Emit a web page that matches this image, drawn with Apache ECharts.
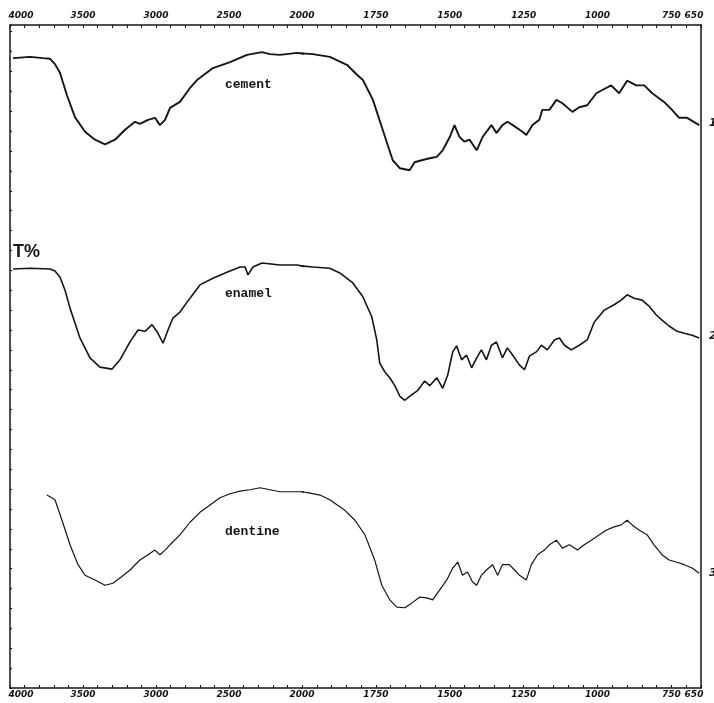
<!DOCTYPE html>
<html><head><meta charset="utf-8">
<script src="https://cdn.jsdelivr.net/npm/echarts@6/dist/echarts.min.js"></script>
<style>html,body{margin:0;padding:0;background:#fff}#c{width:714px;height:703px}</style>
</head><body><div id="c"></div>
<script>
// Wavenumber (cm-1) and transmittance (arbitrary T%, curves offset)
const cementWn = [3979,3863,3774,3726,3692,3658,3610,3555,3486,3418,3349,3281,3212,3144,3110,3055,3007,2973,2938,2904,2836,2767,2719,2610,2493,2377,2274,2219,2151,2034,1963,1906,1848,1814,1794,1760,1727,1693,1669,1636,1619,1595,1568,1544,1524,1500,1484,1467,1450,1433,1409,1389,1359,1342,1322,1305,1287,1254,1241,1220,1197,1187,1163,1139,1119,1085,1062,1035,1004,984,954,927,900,869,842,815,775,748,724,697,656];
const cementT  = [95.0,95.2,95.0,94.9,94.1,92.8,89.4,86.1,83.9,82.7,82.0,82.7,84.2,85.4,85.1,85.7,86.0,84.9,85.7,87.5,88.4,90.5,91.7,93.5,94.4,95.5,95.9,95.6,95.5,95.8,95.6,95.2,94.0,92.5,91.7,88.7,84.2,79.6,78.4,78.1,79.3,79.6,79.9,80.1,81.1,83.1,84.9,83.1,82.4,82.7,81.1,83.1,84.9,83.7,84.9,85.4,84.9,83.9,83.4,84.9,85.7,87.2,87.2,88.7,88.2,86.9,87.6,87.9,89.7,90.2,90.9,89.7,91.6,90.9,90.9,89.7,88.4,87.2,86.0,86.0,84.9];

const enamelWn = [3979,3863,3726,3692,3658,3623,3589,3521,3452,3384,3301,3247,3178,3123,3075,3027,2986,2952,2918,2884,2836,2767,2699,2610,2514,2425,2390,2370,2336,2274,2151,2034,1963,1906,1872,1828,1794,1764,1747,1737,1720,1703,1686,1669,1652,1636,1608,1585,1568,1544,1524,1507,1490,1477,1460,1443,1426,1409,1393,1376,1359,1342,1322,1305,1287,1264,1247,1230,1207,1190,1170,1146,1129,1112,1089,1062,1035,1011,977,944,920,900,876,849,826,802,782,758,731,707,680,656];
const enamelT  = [63.2,63.3,63.2,62.9,62.0,60.0,57.3,52.8,49.8,48.4,48.1,49.5,52.2,54.0,53.8,54.8,53.5,52.0,54.0,55.8,56.7,58.8,60.8,61.8,62.7,63.5,63.5,62.3,63.5,64.1,63.8,63.8,63.5,63.3,62.6,61.1,59.0,56.0,52.5,49.0,47.7,46.8,45.6,44.0,43.4,44.0,44.9,46.3,45.6,46.8,45.2,47.2,50.7,51.6,49.5,50.2,48.3,49.8,51.0,49.5,51.7,52.2,49.8,51.3,50.2,48.7,48.0,50.1,50.7,51.7,51.0,52.5,52.8,51.7,51.0,51.7,52.5,55.2,57.0,57.8,58.5,59.3,58.8,58.5,57.6,56.3,55.5,54.6,53.8,53.5,53.2,52.8];

const dentineWn = [3747,3692,3644,3589,3534,3486,3418,3349,3295,3247,3178,3110,3055,3007,2973,2938,2904,2836,2767,2699,2630,2562,2493,2425,2356,2288,2219,2151,2082,2000,1973,1939,1906,1855,1821,1787,1754,1730,1703,1679,1652,1629,1602,1578,1558,1534,1510,1490,1473,1457,1440,1423,1409,1393,1376,1355,1338,1322,1298,1281,1264,1241,1224,1203,1180,1163,1139,1119,1095,1068,1045,1021,994,971,944,920,900,883,859,832,809,782,758,734,707,680,656];
const dentineT  = [29.1,28.4,25.3,21.6,18.6,17.0,16.3,15.5,15.8,16.6,17.8,19.3,20.1,20.8,20.1,20.8,21.6,23.1,25.0,26.5,27.6,28.7,29.3,29.7,29.9,30.2,29.9,29.6,29.6,29.6,29.4,29.1,28.4,26.8,25.3,23.1,19.3,15.5,13.3,12.2,12.1,12.8,13.7,13.6,13.3,14.8,16.3,18.1,19.0,17.0,17.5,16.0,15.5,17.0,17.8,18.6,17.0,18.6,18.6,17.8,17.0,16.3,18.6,20.1,20.8,21.6,22.3,21.1,21.6,20.8,21.6,22.3,23.1,23.8,24.3,24.6,25.3,24.6,23.8,23.1,21.6,20.1,19.3,19.0,18.6,18.1,17.3];

const curveNames = ['cement','enamel','dentine'];
const highLabels = [4000,3500,3000,2500,2000];   // 4000-2000 section
const lowLabels  = [1750,1500,1250,1000,750,650]; // 2000-650 section

const chart = echarts.init(document.getElementById('c'), null, {renderer:'canvas'});
const zip = (w,t)=>w.map((v,i)=>[v,t[i]]);
const ink = '#151515';
const fontBase = {fontFamily:'DejaVu Sans', fontStyle:'italic', fontWeight:'bold', fontSize:9, color:ink};
const lab = Object.assign({}, fontBase, {
  formatter: v => v === 4000 ? '{l|4000}' : (v === 650 ? '{r|650}' : String(v)),
  rich: {
    l: Object.assign({}, fontBase, {padding:[0,0,0,22]}),
    r: Object.assign({}, fontBase, {padding:[0,14,0,0]})
  }
});

function xAx(gi, pos, min, max, step, labels){
  return {
    type:'value', gridIndex:gi, position:pos, inverse:true, min:min, max:max, interval:step,
    axisLine:{show:true, onZero:false, lineStyle:{color:ink, width:1.5}},
    axisTick:{show:true, inside:true, length:3, lineStyle:{color:ink, width:1}},
    axisLabel:Object.assign({show:true, customValues:labels, margin: pos==='top'?5:2}, lab),
    splitLine:{show:false}
  };
}
const grids = [
  {left:10, top:25, width:292, height:663, containLabel:false, outerBoundsMode:'none'},
  {left:302, top:25, width:399, height:663, containLabel:false, outerBoundsMode:'none'}
];
const xAxes = [
  xAx(0,'top',2000,4000,100,highLabels),
  xAx(0,'bottom',2000,4000,100,highLabels),
  xAx(1,'top',650,2000,50,lowLabels),
  xAx(1,'bottom',650,2000,50,lowLabels)
];
const yAxes = [
  {type:'value', gridIndex:0, min:0, max:100, interval:3, position:'left',
   axisLine:{show:true, lineStyle:{color:ink, width:1.5}},
   axisTick:{show:true, inside:true, length:2, lineStyle:{color:ink}},
   axisLabel:{show:false}, splitLine:{show:false}},
  {type:'value', gridIndex:1, min:0, max:100, interval:3, position:'right',
   axisLine:{show:true, lineStyle:{color:ink, width:1.5}},
   axisTick:{show:false}, axisLabel:{show:false}, splitLine:{show:false}}
];
const curves = [zip(cementWn,cementT), zip(enamelWn,enamelT), zip(dentineWn,dentineT)];
const widths = [1.9, 1.6, 1.2];
const series = [];
curves.forEach((d,i)=>{
  [0,1].forEach(g=>{
    series.push({type:'line', name:curveNames[i], xAxisIndex: g===0?0:2, yAxisIndex:g,
      data:d, showSymbol:false, symbol:'none', clip:true, smooth:false,
      lineStyle:{color:ink, width:widths[i]}});
  });
});
const txt = (s,x,y,font)=>({type:'text', left:x, top:y, style:{text:s, font:font, fill:ink}});
chart.setOption({
  animation:false, backgroundColor:'#fff',
  grid:grids, xAxis:xAxes, yAxis:yAxes, series:series,
  graphic:[
    txt('cement',225,78,'bold 13px "Liberation Mono"'),
    txt('enamel',225,287,'bold 13px "Liberation Mono"'),
    txt('dentine',225,525,'bold 13px "Liberation Mono"'),
    txt('T%',13,243,'bold 18px "Liberation Sans"'),
    txt('1',709,118,'italic bold 11px "DejaVu Sans"'),
    txt('2',709,331,'italic bold 11px "DejaVu Sans"'),
    txt('3',709,568,'italic bold 11px "DejaVu Sans"')
  ]
});
</script></body></html>
